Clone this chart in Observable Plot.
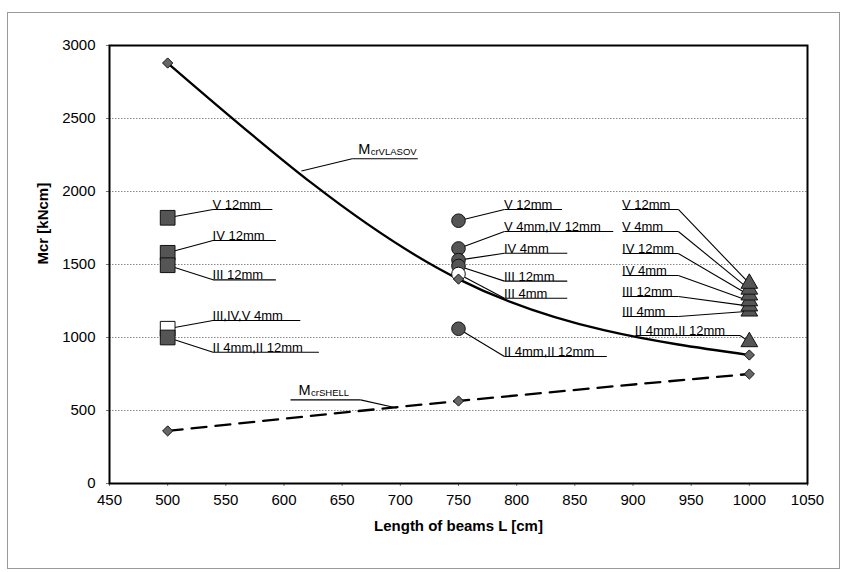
<!DOCTYPE html>
<html><head><meta charset="utf-8">
<script src="https://cdn.jsdelivr.net/npm/d3@7"></script>
<script src="https://cdn.jsdelivr.net/npm/@observablehq/plot@0.6"></script>
<style>
body{margin:0;background:#fff;}
#wrap{position:relative;width:844px;height:572px;}
#border{position:absolute;left:7px;top:12px;width:831px;height:555px;border:1px solid #9a9a9a;pointer-events:none}
</style></head><body><div id="wrap"><div id="border"></div></div>
<script>
// ---- data ----
const lengths = [500, 750, 1000];
const mcrVlasov = [2880, 1400, 880];
const mcrShell = [360, 565, 750];

const squareLabels = ["V 12mm", "IV 12mm", "III 12mm", "III,IV,V 4mm", "II 4mm,II 12mm"];
const squareValues = [1820, 1580, 1495, 1060, 1000];
const squareOpen = [false, false, false, true, false];

const circleLabels = ["V 12mm", "V 4mm,IV 12mm", "IV 4mm", "III 12mm", "III 4mm", "II 4mm,II 12mm"];
const circleValues = [1800, 1610, 1530, 1490, 1435, 1060];
const circleOpen = [false, false, false, false, true, false];

const triangleLabels = ["V 12mm", "V 4mm", "IV 12mm", "IV 4mm", "III 12mm", "III 4mm", "II 4mm,II 12mm"];
const triangleValues = [1370, 1330, 1290, 1250, 1215, 1180, 970];

const xTicks = d3.range(450, 1051, 50);
const yTicks = d3.range(0, 3001, 500);
const gridValues = [500, 1000, 1500, 2000, 2500];

// ---- annotation placement (data units) ----
const squareNoteY = [1877, 1664, 1395, 1116, 899];
const squareNoteEnd = [590, 593, 593, 614, 630];
const squareNoteStart = 539;

const circleNoteY = [1877, 1726, 1577, 1386, 1269, 870];
const circleNoteEnd = [839, 883, 843.5, 843.5, 843.5, 877.5];
const circleNoteStart = 789.5;

const triangleNoteY = [1877, 1726, 1575, 1425, 1281, 1144, 1014];
const triangleNoteStart = [891, 891, 891, 891, 891, 891, 902];
const triangleNoteEnd = [939, 939, 939, 939, 939, 939, 992];

// ---- tables ----
const curveV = lengths.map((x, i) => ({x, y: mcrVlasov[i]}));
const curveS = lengths.map((x, i) => ({x, y: mcrShell[i]}));
const squares = squareValues.map((y, i) => ({x: 500, y, fill: squareOpen[i] ? "white" : "#555"}));
const circles = circleValues.map((y, i) => ({x: 750, y, fill: circleOpen[i] ? "white" : "#555"}));
const triangles = triangleValues.map((y) => ({x: 1000, y})).reverse();

const segs = [];
const notes = [];
squareLabels.forEach((t, i) => {
  segs.push({x1: 500, y1: squareValues[i], x2: squareNoteStart, y2: squareNoteY[i]});
  segs.push({x1: squareNoteStart, y1: squareNoteY[i], x2: squareNoteEnd[i], y2: squareNoteY[i]});
  notes.push({x: squareNoteStart, y: squareNoteY[i], text: t, dx: 10});
});
circleLabels.forEach((t, i) => {
  segs.push({x1: 750, y1: circleValues[i], x2: circleNoteStart, y2: circleNoteY[i]});
  segs.push({x1: circleNoteStart, y1: circleNoteY[i], x2: circleNoteEnd[i], y2: circleNoteY[i]});
  notes.push({x: circleNoteStart, y: circleNoteY[i], text: t, dx: 7});
});
triangleLabels.forEach((t, i) => {
  segs.push({x1: triangleNoteStart[i], y1: triangleNoteY[i], x2: triangleNoteEnd[i], y2: triangleNoteY[i]});
  segs.push({x1: triangleNoteEnd[i], y1: triangleNoteY[i], x2: 1000, y2: triangleValues[i]});
  notes.push({x: triangleNoteStart[i], y: triangleNoteY[i], text: t, dx: 3});
});
// curve labels
const vlasovNote = {px: 615, py: 2140, ex: 658.6, ey: 2224, ux: 715};
const shellNote = {px: 697, py: 517, ex: 665.8, ey: 573, ux: 605.6};
segs.push({x1: vlasovNote.px, y1: vlasovNote.py, x2: vlasovNote.ex, y2: vlasovNote.ey});
segs.push({x1: vlasovNote.ex, y1: vlasovNote.ey, x2: vlasovNote.ux, y2: vlasovNote.ey});
segs.push({x1: shellNote.px, y1: shellNote.py, x2: shellNote.ex, y2: shellNote.ey});
segs.push({x1: shellNote.ex, y1: shellNote.ey, x2: shellNote.ux, y2: shellNote.ey});

const font = "'Liberation Sans', Arial, Helvetica, sans-serif";

const chart = Plot.plot({
  width: 844,
  height: 572,
  marginLeft: 109,
  marginRight: 37,
  marginTop: 45,
  marginBottom: 89,
  style: {fontFamily: font, background: "transparent", color: "black"},
  x: {domain: [450, 1050]},
  y: {domain: [0, 3000]},
  color: {type: "identity"},
  marks: [
    Plot.ruleY(gridValues, {stroke: "#8a8a8a", strokeWidth: 1, strokeDasharray: "1.5,1.5"}),
    Plot.axisX(xTicks, {tickSize: 3, tickPadding: 8, fontSize: 15, label: null, stroke: "#777", tickFormat: d => String(d)}),
    Plot.axisY(yTicks, {tickSize: 3, tickPadding: 11, fontSize: 15, label: null, stroke: "#777", tickFormat: d => String(d)}),
    Plot.text(["Mcr [kNcm]"], {text: d => d, frameAnchor: "left", dx: -66, rotate: -90, fontWeight: "bold", fontSize: 15}),
    Plot.text(["Length of beams L [cm]"], {text: d => d, frameAnchor: "bottom", dy: 47, fontWeight: "bold", fontSize: 15}),
    Plot.link(segs, {x1: "x1", y1: "y1", x2: "x2", y2: "y2", stroke: "black", strokeWidth: 1.1}),
    Plot.line(curveV, {x: "x", y: "y", curve: "monotone-x", stroke: "black", strokeWidth: 2.3}),
    Plot.line(curveS, {x: "x", y: "y", curve: "monotone-x", stroke: "black", strokeWidth: 2.3, strokeDasharray: "15,9"}),
    Plot.dot(squares, {x: "x", y: "y", symbol: "square", r: 8.3, fill: "fill", stroke: "#111", strokeWidth: 1}),
    Plot.dot(circles, {x: "x", y: "y", symbol: "circle", r: 6.8, fill: "fill", stroke: "#111", strokeWidth: 1}),
    Plot.dot(triangles, {x: "x", y: "y", symbol: "triangle", r: 6.2, fill: "#555", stroke: "#111", strokeWidth: 1}),
    Plot.dot(curveV, {x: "x", y: "y", symbol: "diamond2", r: 4.6, fill: "#666", stroke: "#111", strokeWidth: 1}),
    Plot.dot(curveS, {x: "x", y: "y", symbol: "diamond2", r: 4.6, fill: "#666", stroke: "#111", strokeWidth: 1}),
    Plot.text(notes, {x: "x", y: "y", text: "text", dx: "dx", dy: -5, textAnchor: "start", lineAnchor: "bottom", fontSize: 13}),
    Plot.text([vlasovNote], {x: "ex", y: "ey", text: () => "M", dx: 6, dy: -5, textAnchor: "start", lineAnchor: "bottom", fontSize: 14.5}),
    Plot.text([vlasovNote], {x: "ex", y: "ey", text: () => "crVLASOV", dx: 18.5, dy: -4, textAnchor: "start", lineAnchor: "bottom", fontSize: 9.5}),
    Plot.text([shellNote], {x: "ux", y: "ey", text: () => "M", dx: 8, dy: -5, textAnchor: "start", lineAnchor: "bottom", fontSize: 14.5}),
    Plot.text([shellNote], {x: "ux", y: "ey", text: () => "crSHELL", dx: 20.5, dy: -4, textAnchor: "start", lineAnchor: "bottom", fontSize: 9.5}),
    Plot.frame({stroke: "black", strokeWidth: 2})
  ]
});
document.getElementById("wrap").appendChild(chart);
chart.style.position = "absolute";
chart.style.left = "0px";
chart.style.top = "0px";
</script>
</body></html>
